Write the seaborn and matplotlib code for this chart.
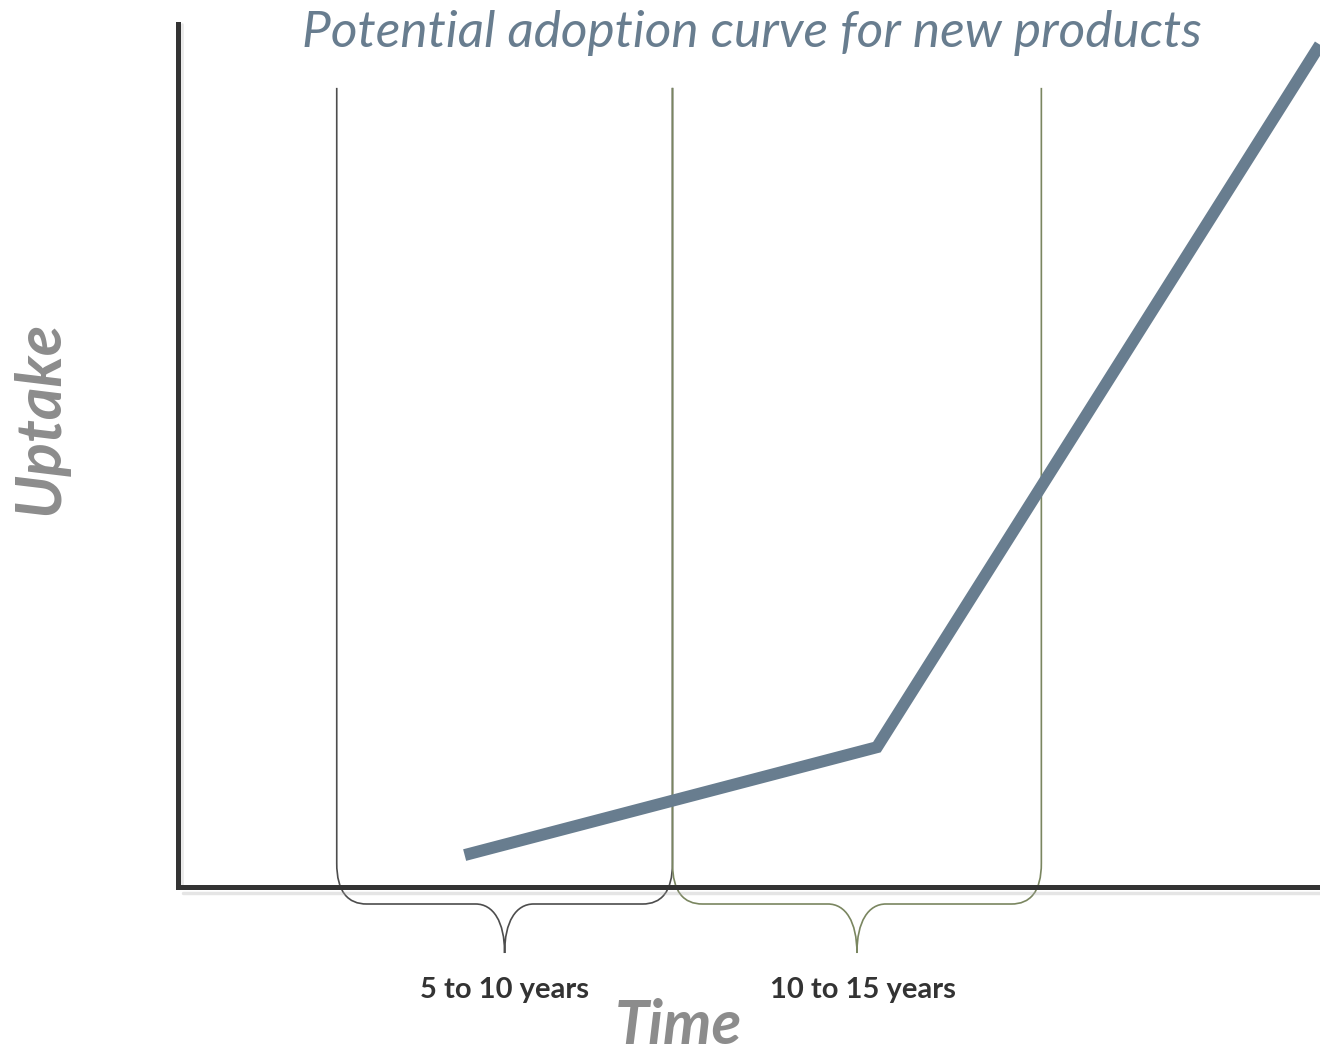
import matplotlib
matplotlib.use("Agg")
import matplotlib.pyplot as plt
import seaborn as sns
import pandas as pd
from matplotlib.path import Path
from matplotlib.patches import PathPatch

# curve points (time, uptake) on a 0-100 scale
time_pts = [25.1, 61.2, 100.0]
uptake_pts = [3.7, 16.2, 97.6]

# brace edges along the time axis and their labels
brace_edges = [13.9, 43.3, 75.6]
brace_labels = ["5 to 10 years", "10 to 15 years"]
brace_colors = ["#4d4d4d", "#7a8660"]

sns.set_style("white")
plt.rcParams['font.family'] = ['Lato', 'DejaVu Sans']

fig = plt.figure(figsize=(13.2, 10.54), dpi=100)
ax = fig.add_axes([178 / 1320, 167 / 1054, 1 - 178 / 1320, (887 - 24) / 1054])

df = pd.DataFrame({'Time': time_pts, 'Uptake': uptake_pts})
sns.lineplot(data=df, x='Time', y='Uptake', ax=ax, color='#687d8f',
             linewidth=8.6, solid_capstyle='butt', solid_joinstyle='miter', sort=False)

ax.set_xlim(0, 100)
ax.set_ylim(0, 100)
ax.set_xticks([])
ax.set_yticks([])
ax.set_xlabel('')
ax.set_ylabel('')
for s in ['top', 'right']:
    ax.spines[s].set_visible(False)
for s in ['left', 'bottom']:
    ax.spines[s].set_color('#333333')
    ax.spines[s].set_linewidth(3.6)

# soft shadow under the axis lines
ax.plot([0.4, 100], [-0.7, -0.7], color='#aaaaaa', alpha=0.3, lw=2.5, clip_on=False)
ax.plot([0.35, 0.35], [0, 100], color='#aaaaaa', alpha=0.25, lw=2.0, clip_on=False)


def brace(x0, x1, color, top=92.6):
    xc = (x0 + x1) / 2
    yb, yh, yt = 2.78, -1.97, -7.65
    verts = [
        (x0, top), (x0, yb),
        (x0, -0.6), (x0 + 1.0, yh), (x0 + 2.63, yh),
        (xc - 2.54, yh),
        (xc - 1.0, yh), (xc, -4.0), (xc, yt),
        (xc, -4.0), (xc + 1.0, yh), (xc + 2.54, yh),
        (x1 - 2.63, yh),
        (x1 - 1.0, yh), (x1, -0.6), (x1, yb),
        (x1, top),
    ]
    codes = [Path.MOVETO, Path.LINETO,
             Path.CURVE4, Path.CURVE4, Path.CURVE4,
             Path.LINETO,
             Path.CURVE4, Path.CURVE4, Path.CURVE4,
             Path.CURVE4, Path.CURVE4, Path.CURVE4,
             Path.LINETO,
             Path.CURVE4, Path.CURVE4, Path.CURVE4,
             Path.LINETO]
    ax.add_patch(PathPatch(Path(verts, codes), fill=False, edgecolor=color,
                           lw=1.2, clip_on=False, zorder=1))
    return xc


for i, lab in enumerate(brace_labels):
    xc = brace(brace_edges[i], brace_edges[i + 1], brace_colors[i])
    ax.text(xc + (0 if i == 0 else 0.5), -12.86, lab, ha='center', va='baseline',
            fontsize=21, fontweight='bold', color='#333333', clip_on=False)

fig.text(752 / 1320, 1 - 47 / 1054, 'Potential adoption curve for new products',
         ha='center', va='baseline', fontsize=37, style='italic', color='#687d8f')
fig.text(40 / 1320, 1 - 418 / 1054, 'Uptake', rotation=90, ha='center', va='center',
         fontsize=45, style='italic', fontweight='bold', color='#8c8c8c')
fig.text(678 / 1320, 1 - 1044 / 1054, 'Time', ha='center', va='baseline',
         fontsize=44, style='italic', fontweight='bold', color='#8c8c8c')

fig.savefig('out.png', dpi=100)
